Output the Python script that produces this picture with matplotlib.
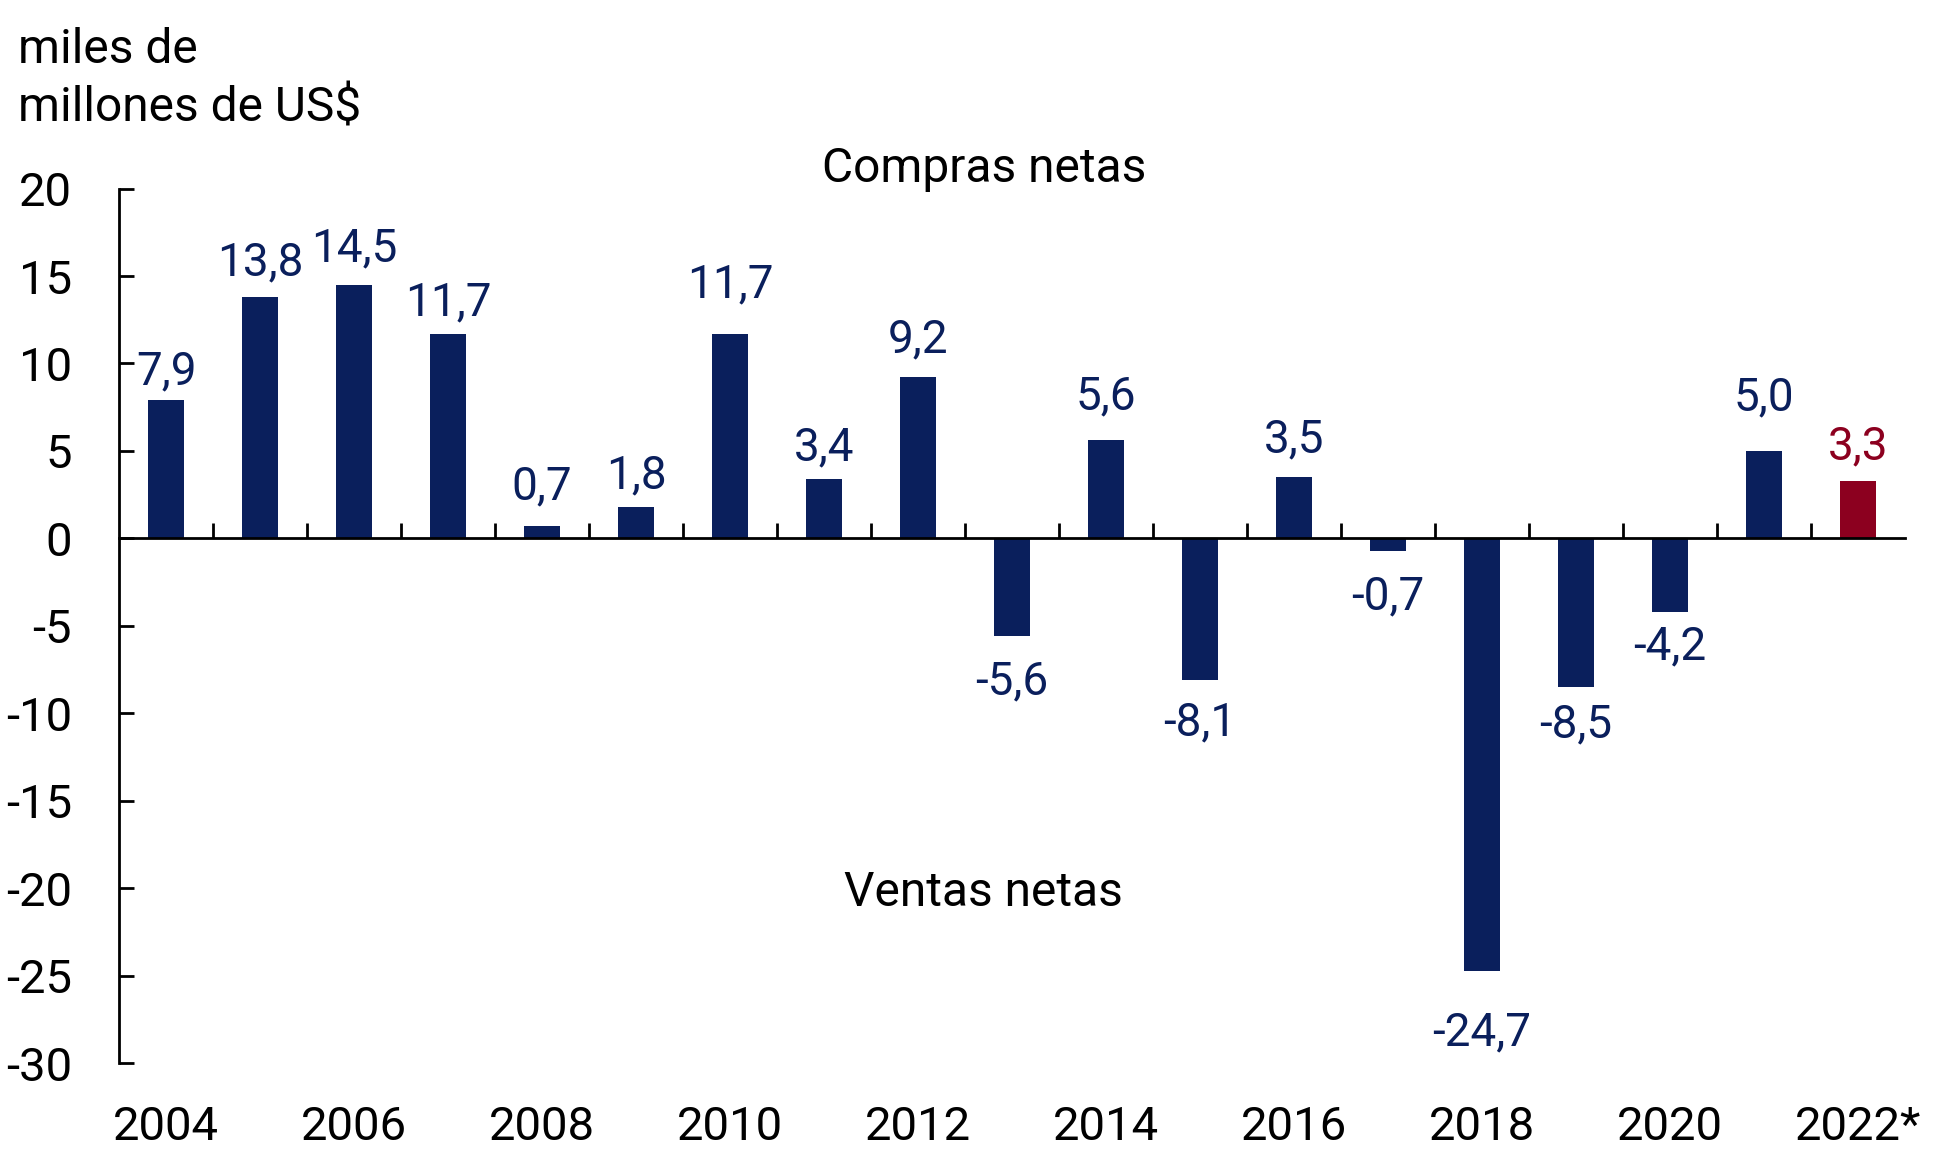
import matplotlib
matplotlib.use('Agg')
import matplotlib.pyplot as plt
import numpy as np

plt.rcParams['font.family'] = ['Roboto', 'DejaVu Sans']
plt.rcParams['axes.unicode_minus'] = False

years = [str(y) for y in range(2004, 2022)] + ['2022*']
values = [7.9, 13.8, 14.5, 11.7, 0.7, 1.8, 11.7, 3.4, 9.2, -5.6,
          5.6, -8.1, 3.5, -0.7, -24.7, -8.5, -4.2, 5.0, 3.3]
yticks = [20, 15, 10, 5, 0, -5, -10, -15, -20, -25, -30]

# vertical offset of each value label from its bar end (points)
label_off = [5, 9, 10.5, 7, 13, 7, 19.5, 7, 11.5, -16.5,
             16, -14.5, 11.5, -17, -29, -11, -9, 23, 9]

navy = '#0a1f5c'
red = '#8c001f'
colors = [navy] * (len(values) - 1) + [red]

fig = plt.figure(figsize=(19.48, 11.71), dpi=100)
ax = fig.add_axes([0.0611, 0.092, 0.9168, 0.747])

x = np.arange(len(values))
ax.bar(x, values, width=0.39, color=colors, zorder=2)

ax.set_xlim(-0.5, len(values) - 0.5)
ax.set_ylim(-30, 20)

for s in ['top', 'right']:
    ax.spines[s].set_visible(False)
ax.spines['left'].set_linewidth(2)
ax.spines['bottom'].set_position(('data', 0))
ax.spines['bottom'].set_linewidth(2)
ax.spines['bottom'].set_zorder(3)

ax.set_yticks(yticks)
ax.set_yticklabels([str(v) for v in yticks])
ax.tick_params(axis='y', direction='in', length=11, width=2, pad=34,
               labelsize=34)

# ticks between bars on the zero line
ax.set_xticks(x[1:] - 0.5)
ax.tick_params(axis='x', direction='in', length=11, width=2, labelbottom=False)

# year labels at the bottom
sec = ax.secondary_xaxis('bottom')
sec.spines['bottom'].set_visible(False)
sec.set_xticks(x[::2])
sec.set_xticklabels(years[::2])
sec.tick_params(length=0, pad=30, labelsize=34)

for xi, v, c, off in zip(x, values, colors, label_off):
    lab = ('%.1f' % v).replace('.', ',')
    ax.annotate(lab, (xi, v), xytext=(0, off), textcoords='offset points',
                ha='center', va='bottom' if v >= 0 else 'top',
                fontsize=33, color=c)

ax.text(8.7, 21.1, 'Compras netas', ha='center', va='center', fontsize=34.5,
        clip_on=False)
ax.text(8.7, -20.25, 'Ventas netas', ha='center', va='center', fontsize=34.5)

fig.text(0.009, 0.977, 'miles de\nmillones de US$', ha='left', va='top',
         fontsize=34.5, linespacing=1.34)

fig.savefig('out.png', dpi=100)
